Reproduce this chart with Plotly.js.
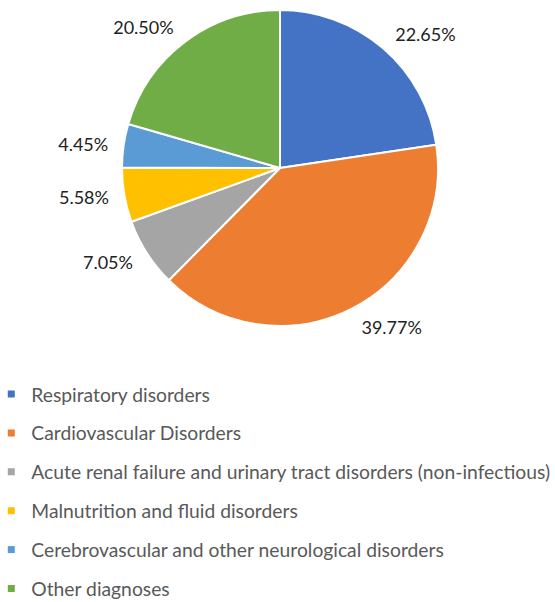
<!DOCTYPE html>
<html>
<head>
<meta charset="utf-8">
<script src="https://cdn.plot.ly/plotly-3.0.1.min.js"></script>
<style>html,body{margin:0;padding:0;background:#fff;}#chart{width:555px;height:602px;}</style>
</head>
<body>
<div id="chart"></div>
<script>
const categories = [
  "Respiratory disorders",
  "Cardiovascular Disorders",
  "Acute renal failure and urinary tract disorders (non-infectious)",
  "Malnutrition and fluid disorders",
  "Cerebrovascular and other neurological disorders",
  "Other diagnoses"
];
const shares = [22.65, 39.77, 7.05, 5.58, 4.45, 20.50];
const colors = ["#4472C4", "#ED7D31", "#A5A5A5", "#FFC000", "#5B9BD5", "#70AD47"];

const W = 555, H = 602;
const FONT = "Lato, 'Open Sans', sans-serif";

// geometry of the pie (pixels)
const CX = 280, CY = 168, R = 158, RL = 168;
const dom = (cx, cy, r) => ({x: [(cx - r) / W, (cx + r) / W], y: [Math.max(0, 1 - (cy + r) / H), Math.min(1, 1 - (cy - r) / H)]});

const pie = {
  type: "pie",
  labels: categories,
  values: shares,
  sort: false,
  direction: "clockwise",
  rotation: 0,
  marker: {colors: colors, line: {color: "#ffffff", width: 2}},
  textinfo: "none",
  showlegend: false,
  hoverinfo: "label+value",
  domain: dom(CX, CY, R)
};

// same data, transparent, slightly larger: carries the percentage labels outside the slices
const labelPie = {
  type: "pie",
  labels: categories,
  values: shares,
  sort: false,
  direction: "clockwise",
  rotation: 0,
  marker: {colors: categories.map(() => "rgba(0,0,0,0)"), line: {width: 0}},
  texttemplate: "%{value:.2f}%",
  textposition: "outside",
  outsidetextfont: {family: FONT, size: 18, color: "#222222"},
  showlegend: false,
  hoverinfo: "skip",
  domain: dom(CX, CY, RL)
};

const legendTraces = categories.map((c, i) => ({
  type: "scatter",
  mode: "markers",
  x: [null], y: [null],
  name: c,
  legendgroup: "g" + i,
  marker: {symbol: "square", size: 7, color: colors[i]},
  hoverinfo: "skip",
  showlegend: true
}));

const layout = {
  width: W, height: H,
  margin: {l: 0, r: 0, t: 0, b: 0, autoexpand: false},
  paper_bgcolor: "#ffffff",
  plot_bgcolor: "rgba(0,0,0,0)",
  xaxis: {visible: false, domain: [0, 0.01]},
  yaxis: {visible: false, domain: [0, 0.01]},
  showlegend: true,
  legend: {
    x: -0.0157, xanchor: "left",
    y: 1 - 375 / H, yanchor: "top",
    orientation: "v",
    traceorder: "grouped",
    tracegroupgap: 10.8,
    font: {family: FONT, size: 19.3, color: "#595959"},
    bgcolor: "rgba(0,0,0,0)"
  }
};

Plotly.newPlot("chart", [pie, labelPie].concat(legendTraces), layout, {displayModeBar: false, staticPlot: true});
</script>
</body>
</html>
